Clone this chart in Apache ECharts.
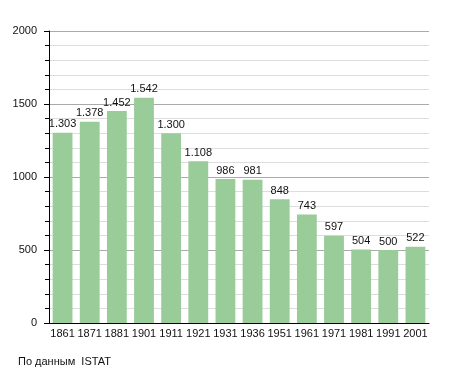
<!DOCTYPE html>
<html>
<head>
<meta charset="utf-8">
<script src="https://cdn.jsdelivr.net/npm/echarts@6/dist/echarts.min.js"></script>
<style>html,body{margin:0;padding:0;background:#fff;}#c{width:455px;height:373px;}</style>
</head>
<body>
<div id="c"></div>
<script>
const years = ['1861','1871','1881','1901','1911','1921','1931','1936','1951','1961','1971','1981','1991','2001'];
const population = [1303,1378,1452,1542,1300,1108,986,981,848,743,597,504,500,522];
const yTicks = [0,500,1000,1500,2000];
const sourceText = 'По данным  ISTAT';

function fmt(v){
  const s = String(v);
  return s.length > 3 ? s.slice(0, s.length-3) + '.' + s.slice(s.length-3) : s;
}

const chart = echarts.init(document.getElementById('c'), null, {renderer:'canvas'});
chart.setOption({
  animation:false,
  backgroundColor:'#fff',
  textStyle:{fontFamily:'Liberation Sans, Arial, sans-serif'},
  grid:{left:49, right:26, top:31, bottom:50, containLabel:false},
  graphic:[{type:'text', left:18, top:356, style:{text:sourceText, fontSize:11, fill:'#111', fontFamily:'Liberation Sans, Arial, sans-serif'}}],
  xAxis:{
    type:'category', data:years,
    axisLine:{lineStyle:{color:'#000', width:1}},
    axisTick:{show:false},
    axisLabel:{color:'#111', fontSize:11, margin:5, interval:0}
  },
  yAxis:{
    type:'value', min:yTicks[0], max:yTicks[yTicks.length-1], interval:500,
    axisLine:{show:true, lineStyle:{color:'#000', width:1}},
    axisTick:{show:true, length:5, lineStyle:{color:'#000'}},
    minorTick:{show:true, splitNumber:5, length:4, lineStyle:{color:'#000'}},
    axisLabel:{color:'#111', fontSize:11, margin:12, formatter:v=>String(v)},
    splitLine:{show:true, lineStyle:{color:'#aaaaaa', width:1}},
    minorSplitLine:{show:true, lineStyle:{color:'#dddddd', width:1}}
  },
  series:[{
    type:'bar', data:population, barCategoryGap:'27%',
    itemStyle:{color:'#99cc99'},
    label:{show:true, position:'top', distance:3, color:'#111', fontSize:11, formatter:p=>fmt(p.value)}
  }]
});
</script>
</body>
</html>
